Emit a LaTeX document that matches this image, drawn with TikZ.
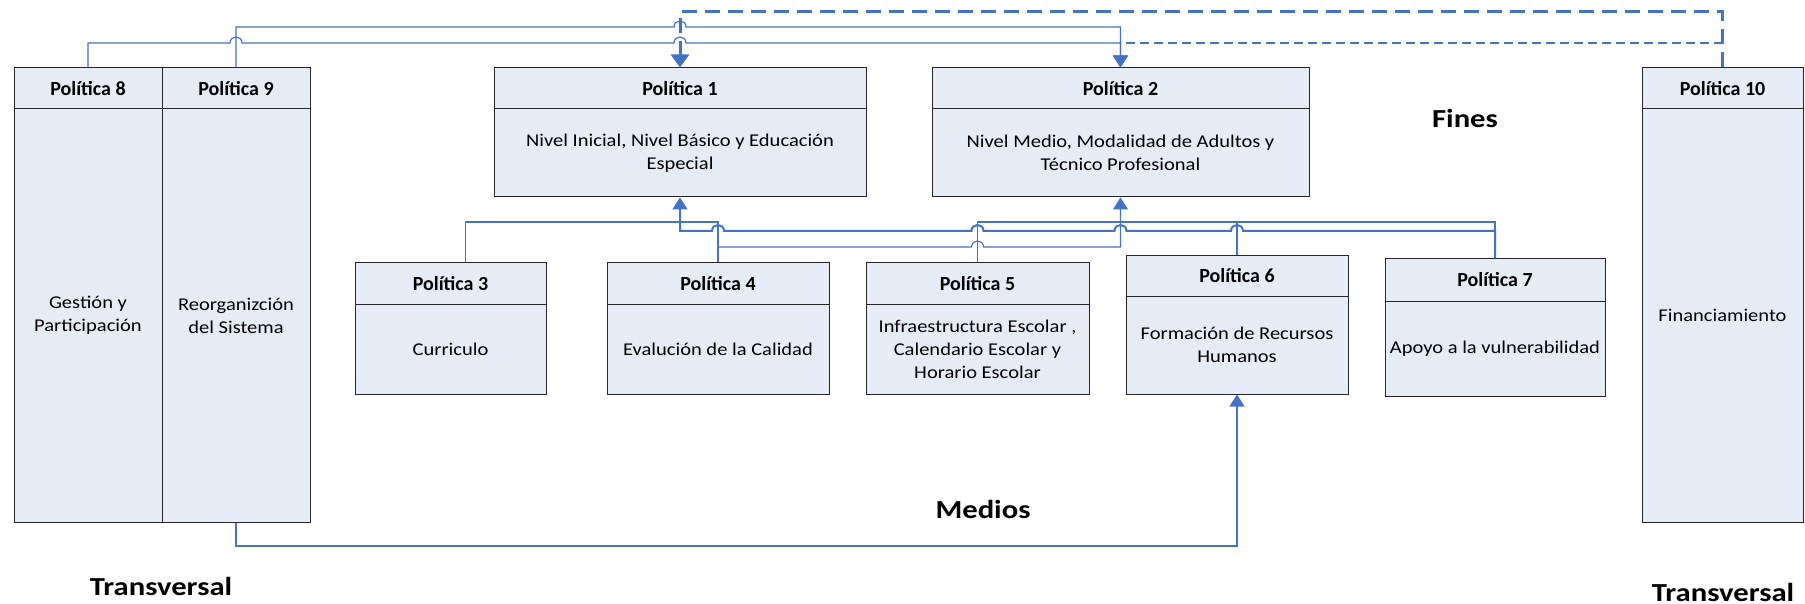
\documentclass[tikz,border=0pt]{standalone}
\usepackage{fontspec}
\setmainfont{Carlito}
\newfontfamily\bodyfont[FakeStretch=1.14]{Carlito}
\newfontfamily\labfont[FakeStretch=1.18]{Carlito}
\usetikzlibrary{arrows.meta}
\definecolor{boxfill}{HTML}{E6ECF6}
\definecolor{connblue}{HTML}{4472C4}
\newcommand{\hop}[2]{-- ({#1-6},#2) .. controls ({#1-6},{#2-8}) and ({#1+6},{#2-8}) .. ({#1+6},#2)}
\begin{document}
\begin{tikzpicture}[x=1pt,y=-1pt,
  hdr/.style={draw=black!85,fill=boxfill,line width=1pt,inner sep=0pt,align=center,font=\bfseries\fontsize{20}{24}\selectfont},
  bdy/.style={draw=black!85,fill=boxfill,line width=1pt,inner sep=0pt,align=center,font=\bodyfont\fontsize{18}{23}\selectfont},
  link/.style={draw=connblue,line width=1.2pt},
  linkB/.style={draw=connblue,line width=2pt},
  thickdash/.style={draw=connblue,line width=3pt,dash pattern=on 15pt off 8pt},
  thindash/.style={draw=connblue,line width=1.6pt,dash pattern=on 9pt off 5pt},
  arr/.style={-{Triangle[length=12pt,width=15pt]}},
  arrbig/.style={-{Triangle[length=13pt,width=18pt]}},
  arrS/.style={{Triangle[length=12pt,width=15pt]}-},
  lab/.style={font=\labfont\bfseries\fontsize{26}{30}\selectfont,inner sep=0pt,anchor=base}]
\useasboundingbox (0,0) rectangle (1805,604);
\fill[white] (0,0) rectangle (1805,604);

% transversal boxes
\node[hdr,minimum width=148pt,minimum height=41pt] (p8) at (88,88.5) {Política 8};
\node[bdy,minimum width=148pt,minimum height=413pt] (b8) at (88,315.5) {Gestión y\\Participación};
\node[hdr,minimum width=148pt,minimum height=41pt] (p9) at (236,88.5) {Política 9};
\node[bdy,minimum width=148pt,minimum height=413pt] (b9) at (236,315.5) {Reorganizción\\del Sistema};
\node[hdr,minimum width=161pt,minimum height=41pt] (p10) at (1722.5,88.5) {Política 10};
\node[bdy,minimum width=161pt,minimum height=413pt] (b10) at (1722.5,315.5) {Financiamiento};

% fines
\node[hdr,minimum width=372pt,minimum height=41pt] (p1) at (680,88.5) {Política 1};
\node[bdy,minimum width=372pt,minimum height=88pt] (b1) at (680,153) {Nivel Inicial, Nivel Básico y Educación\\Especial};
\node[hdr,minimum width=377pt,minimum height=41pt] (p2) at (1120.5,88.5) {Política 2};
\node[bdy,minimum width=377pt,minimum height=88pt] (b2) at (1120.5,153) {Nivel Medio, Modalidad de Adultos y\\Técnico Profesional};

% medios
\node[hdr,minimum width=191pt,minimum height=41pt] (p3) at (450.5,283.5) {Política 3};
\node[bdy,minimum width=191pt,minimum height=90pt] (b3) at (450.5,349) {Curriculo};
\node[hdr,minimum width=222pt,minimum height=41pt] (p4) at (718,283.5) {Política 4};
\node[bdy,minimum width=222pt,minimum height=90pt] (b4) at (718,349) {Evalución de la Calidad};
\node[hdr,minimum width=223pt,minimum height=41pt] (p5) at (977.5,283.5) {Política 5};
\node[bdy,minimum width=223pt,minimum height=90pt] (b5) at (977.5,349) {Infraestructura Escolar ,\\Calendario Escolar y\\Horario Escolar};
\node[hdr,minimum width=222pt,minimum height=40pt] (p6) at (1237,276) {Política 6};
\node[bdy,minimum width=222pt,minimum height=98pt] (b6) at (1237,345) {Formación de Recursos\\Humanos};
\node[hdr,minimum width=220pt,minimum height=42pt] (p7) at (1495,280) {Política 7};
\node[bdy,minimum width=220pt,minimum height=95pt] (b7) at (1495,348.5) {Apoyo a la vulnerabilidad};

% labels
\node[lab] (fines) at (1465,128) {Fines};
\node[lab] (medios) at (983,518) {Medios};
\node[lab] (tl) at (161,595) {Transversal};
\node[lab] (tr) at (1723,601) {Transversal};

% helper levels
\coordinate (y12) at (0,12);
\coordinate (y27) at (0,27);
\coordinate (y43) at (0,43);
\coordinate (y222) at (0,222);
\coordinate (y231) at (0,231);
\coordinate (y247) at (0,247);
\coordinate (y546) at (0,546);

% top connectors
\draw[thickdash,arrbig] (p10.north) -- (p10.north |- y12) -- (p1.north |- y12) -- (p1.north);
\draw[thindash] (p10.north |- y43) -- (p2.north |- y43);
\draw[link,arr] (p8.north) -- (p8.north |- y43) \hop{236}{43} \hop{680}{43} -- (p2.north |- y43) -- (p2.north);
\draw[link,arr] (p9.north) -- (p9.north |- y27) \hop{680}{27} -- (p2.north |- y27) -- (p2.north);

% middle connectors
\draw[link] ([xshift=15pt]p3.north) |- (p4.north |- y222) -- (p4.north);
\draw[link,arr] (p4.north |- y247) \hop{977.5}{247} -- (p2.south |- y247) -- (b2.south);
\draw[linkB,arrS] (b1.south) -- (b1.south |- y231) \hop{718}{231} \hop{977.5}{231} \hop{1120.5}{231} \hop{1237}{231} -- (p7.north |- y231) -- (p7.north);
\draw[link] (p5.north) -- (p5.north |- y222) -- (p7.north |- y222) -- (p7.north |- y231);
\draw[link] (p6.north) -- (p6.north |- y222);

% bottom connector
\draw[link,arr] (b9.south) -- (b9.south |- y546) -- (b6.south |- y546) -- (b6.south);
\end{tikzpicture}
\end{document}
